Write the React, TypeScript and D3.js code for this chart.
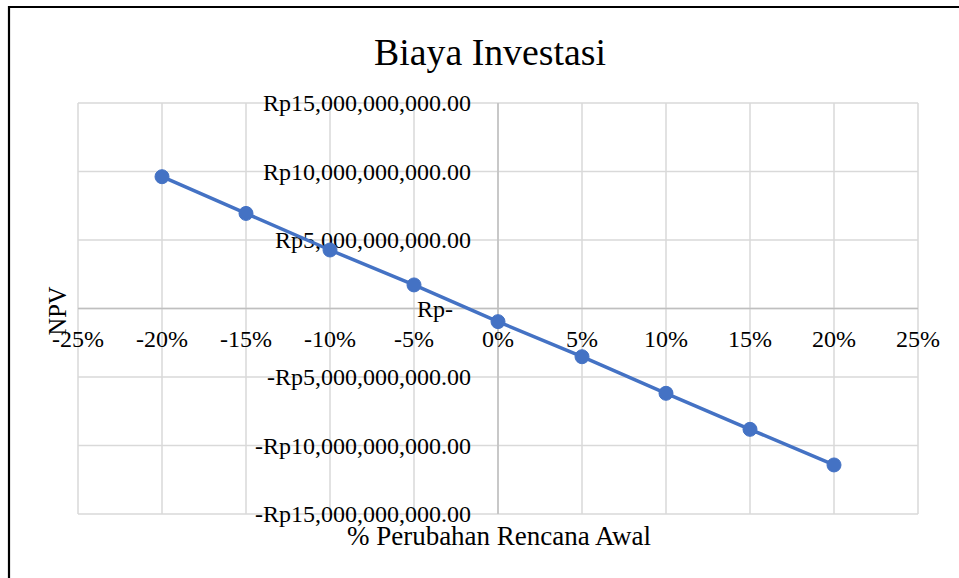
import React from "react";
import * as d3 from "d3";

// % change from the initial plan
const perubahan = [-0.2, -0.15, -0.1, -0.05, 0, 0.05, 0.1, 0.15, 0.2];
// NPV in rupiah
const npv = [
    9.62e9, 6.94e9, 4.27e9, 1.72e9, -0.96e9, -3.52e9, -6.19e9, -8.82e9, -11.42e9,
];
const xTicks = [-0.25, -0.2, -0.15, -0.1, -0.05, 0, 0.05, 0.1, 0.15, 0.2, 0.25];
const yTicks = [15e9, 10e9, 5e9, 0, -5e9, -10e9, -15e9];

const width = 959;
const height = 578;
const font = "'Liberation Serif', 'Times New Roman', serif";
const blue = "#4472C4";

const fmtNum = d3.format(",.2f");
const fmtRp = (v: number) => (v === 0 ? "Rp-" : (v < 0 ? "-Rp" : "Rp") + fmtNum(Math.abs(v)));
const fmtPct = (v: number) => `${Math.round(v * 100)}%`;

export default function App() {
    const x = d3.scaleLinear().domain([-0.25, 0.25]).range([78, 918]);
    const y = d3.scaleLinear().domain([-15e9, 15e9]).range([514, 103]);

    const line = d3
        .line<number>()
        .x((d, i) => x(perubahan[i]))
        .y((d) => y(d));

    return (
        <svg
            width={width}
            height={height}
            style={{ position: "absolute", left: 0, top: 0, background: "#fff" }}
            fontFamily={font}
        >
            <rect width={width} height={height} fill="#fff" />
            {/* outer chart frame (only top and left visible) */}
            <path d={`M9,${height} V7 H${width}`} fill="none" stroke="#000" strokeWidth={2.2} />

            <text x={490} y={65} textAnchor="middle" fontSize={37.8} fill="#000">
                Biaya Investasi
            </text>

            {/* gridlines */}
            <g stroke="#d9d9d9" strokeWidth={1.5}>
                {xTicks.map((t) => (
                    <line key={"gx" + t} x1={x(t)} x2={x(t)} y1={y(15e9)} y2={y(-15e9)} />
                ))}
                {yTicks.map((t) => (
                    <line key={"gy" + t} x1={x(-0.25)} x2={x(0.25)} y1={y(t)} y2={y(t)} />
                ))}
            </g>
            {/* zero axes */}
            <g stroke="#bfbfbf" strokeWidth={1.5}>
                <line x1={x(0)} x2={x(0)} y1={y(15e9)} y2={y(-15e9)} />
                <line x1={x(-0.25)} x2={x(0.25)} y1={y(0)} y2={y(0)} />
            </g>

            {/* y tick labels */}
            <g fontSize={24} fill="#000" textAnchor="end">
                {yTicks.map((t) => (
                    <text key={"ty" + t} x={x(0) - 27 - (t === 0 ? 18 : 0)} y={y(t)} dy="0.35em">
                        {fmtRp(t)}
                    </text>
                ))}
            </g>
            {/* x tick labels */}
            <g fontSize={24} fill="#000" textAnchor="middle">
                {xTicks.map((t) => (
                    <text key={"tx" + t} x={x(t)} y={y(0) + 30} dy="0.35em">
                        {fmtPct(t)}
                    </text>
                ))}
            </g>

            {/* axis titles */}
            <text x={499} y={545} textAnchor="middle" fontSize={27} fill="#000">
                % Perubahan Rencana Awal
            </text>
            <text
                transform={`translate(66,311) rotate(-90)`}
                textAnchor="middle"
                fontSize={24.5}
                fill="#000"
            >
                NPV
            </text>

            {/* series */}
            <path d={line(npv) || ""} fill="none" stroke={blue} strokeWidth={3.5} strokeLinecap="round" />
            {npv.map((v, i) => (
                <circle key={"p" + i} cx={x(perubahan[i])} cy={y(v)} r={7} fill={blue} stroke={blue} strokeWidth={1} />
            ))}
        </svg>
    );
}
